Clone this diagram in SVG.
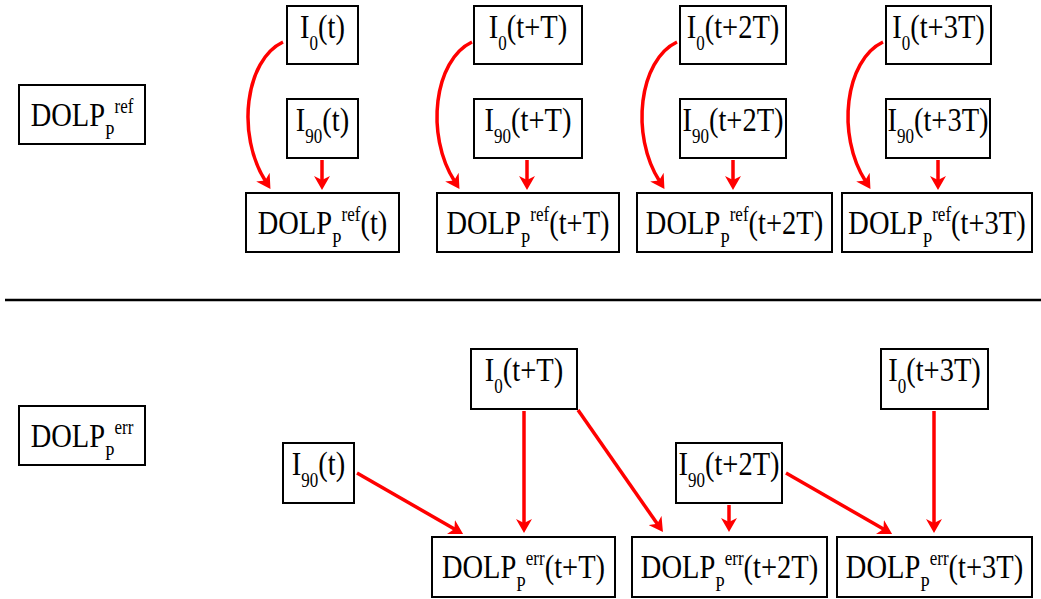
<svg xmlns="http://www.w3.org/2000/svg" width="1041" height="599" viewBox="0 0 1041 599">
<style>
.box{fill:#fff;stroke:#000;stroke-width:2}
.lbl{font-family:"Liberation Serif","Times New Roman",serif;font-size:28.5px;fill:#000;text-anchor:middle}
.s{font-size:17px}
.arr{fill:none;stroke:#ff0000;stroke-width:3.5}
</style>
<defs>
<marker id="ah" viewBox="0 0 14 16" markerWidth="14" markerHeight="16" refX="5" refY="8" orient="auto" markerUnits="userSpaceOnUse">
<path d="M0,0 L14,8 L0,16 L4,8 z" fill="#ff0000"/>
</marker>
</defs>
<rect width="1041" height="599" fill="#fff"/>
<line x1="5" y1="300" x2="1041" y2="300" stroke="#000" stroke-width="2.5"/>

<g id="connectors">
<path class="arr" marker-end="url(#ah)" d="M283,42 C245,60 236,135 265.6,181.3"/>
<path class="arr" marker-end="url(#ah)" d="M472,42 C434,60 425,135 454.6,181.3"/>
<path class="arr" marker-end="url(#ah)" d="M677,42 C639,60 630,135 659.6,181.3"/>
<path class="arr" marker-end="url(#ah)" d="M883,42 C845,60 836,135 865.6,181.3"/>
<path class="arr" marker-end="url(#ah)" d="M322,160 L322,181"/>
<path class="arr" marker-end="url(#ah)" d="M527,160 L527,181"/>
<path class="arr" marker-end="url(#ah)" d="M733,160 L733,181"/>
<path class="arr" marker-end="url(#ah)" d="M938,160 L938,181"/>
<path class="arr" marker-end="url(#ah)" d="M357,473 L455.3,529.5"/>
<path class="arr" marker-end="url(#ah)" d="M524,411 L524,524"/>
<path class="arr" marker-end="url(#ah)" d="M578,410 L657.8,524.6"/>
<path class="arr" marker-end="url(#ah)" d="M729,505 L729,523"/>
<path class="arr" marker-end="url(#ah)" d="M786,473 L884.3,529.5"/>
<path class="arr" marker-end="url(#ah)" d="M934,411 L934,524"/>
</g>

<g id="dolp-ref-label"><rect class="box" x="19" y="85" width="126" height="59"/>
<text class="lbl" transform="translate(82,126) scale(1,1.18)">DOLP<tspan class="s" dy="11">P</tspan><tspan class="s" dy="-22">ref</tspan></text></g>

<g id="i0-t"><rect class="box" x="287" y="6" width="71" height="58"/>
<text class="lbl" transform="translate(322.5,38) scale(1,1.18)">I<tspan class="s" dy="10">0</tspan><tspan dy="-10">(t)</tspan></text></g>
<g id="i90-t"><rect class="box" x="287" y="99" width="71" height="59"/>
<text class="lbl" transform="translate(322.5,131) scale(1,1.18)">I<tspan class="s" dy="10">90</tspan><tspan dy="-10">(t)</tspan></text></g>
<g id="dolp-ref-t"><rect class="box" x="246" y="193" width="153" height="59"/>
<text class="lbl" transform="translate(322.5,234) scale(1,1.18)">DOLP<tspan class="s" dy="11">P</tspan><tspan class="s" dy="-22">ref</tspan><tspan dy="11">(t)</tspan></text></g>

<g id="i0-tT"><rect class="box" x="474" y="6" width="108" height="58"/>
<text class="lbl" transform="translate(528,38) scale(1,1.18)">I<tspan class="s" dy="10">0</tspan><tspan dy="-10">(t+T)</tspan></text></g>
<g id="i90-tT"><rect class="box" x="474" y="99" width="108" height="59"/>
<text class="lbl" transform="translate(528,131) scale(1,1.18)">I<tspan class="s" dy="10">90</tspan><tspan dy="-10">(t+T)</tspan></text></g>
<g id="dolp-ref-tT"><rect class="box" x="437" y="193" width="182" height="59"/>
<text class="lbl" transform="translate(528,234) scale(1,1.18)">DOLP<tspan class="s" dy="11">P</tspan><tspan class="s" dy="-22">ref</tspan><tspan dy="11">(t+T)</tspan></text></g>

<g id="i0-t2T"><rect class="box" x="680" y="6" width="106" height="58"/>
<text class="lbl" transform="translate(733,38) scale(1,1.18)">I<tspan class="s" dy="10">0</tspan><tspan dy="-10">(t+2T)</tspan></text></g>
<g id="i90-t2T"><rect class="box" x="680" y="99" width="106" height="59"/>
<text class="lbl" transform="translate(733,131) scale(1,1.18)">I<tspan class="s" dy="10">90</tspan><tspan dy="-10">(t+2T)</tspan></text></g>
<g id="dolp-ref-t2T"><rect class="box" x="637" y="193" width="195" height="59"/>
<text class="lbl" transform="translate(734.5,234) scale(1,1.18)">DOLP<tspan class="s" dy="11">P</tspan><tspan class="s" dy="-22">ref</tspan><tspan dy="11">(t+2T)</tspan></text></g>

<g id="i0-t3T"><rect class="box" x="886" y="6" width="105" height="58"/>
<text class="lbl" transform="translate(938.5,38) scale(1,1.18)">I<tspan class="s" dy="10">0</tspan><tspan dy="-10">(t+3T)</tspan></text></g>
<g id="i90-t3T"><rect class="box" x="886" y="99" width="104" height="59"/>
<text class="lbl" transform="translate(938,131) scale(1,1.18)">I<tspan class="s" dy="10">90</tspan><tspan dy="-10">(t+3T)</tspan></text></g>
<g id="dolp-ref-t3T"><rect class="box" x="842" y="193" width="190" height="59"/>
<text class="lbl" transform="translate(937,234) scale(1,1.18)">DOLP<tspan class="s" dy="11">P</tspan><tspan class="s" dy="-22">ref</tspan><tspan dy="11">(t+3T)</tspan></text></g>

<g id="dolp-err-label"><rect class="box" x="19" y="406" width="126" height="59"/>
<text class="lbl" transform="translate(82,447) scale(1,1.18)">DOLP<tspan class="s" dy="11">P</tspan><tspan class="s" dy="-22">err</tspan></text></g>

<g id="b-i90-t"><rect class="box" x="283" y="443" width="71" height="60"/>
<text class="lbl" transform="translate(318.5,475) scale(1,1.18)">I<tspan class="s" dy="10">90</tspan><tspan dy="-10">(t)</tspan></text></g>
<g id="b-i0-tT"><rect class="box" x="471" y="349" width="106" height="60"/>
<text class="lbl" transform="translate(524,381) scale(1,1.18)">I<tspan class="s" dy="10">0</tspan><tspan dy="-10">(t+T)</tspan></text></g>
<g id="b-i90-t2T"><rect class="box" x="676" y="443" width="106" height="60"/>
<text class="lbl" transform="translate(729,475) scale(1,1.18)">I<tspan class="s" dy="10">90</tspan><tspan dy="-10">(t+2T)</tspan></text></g>
<g id="b-i0-t3T"><rect class="box" x="881" y="349" width="107" height="60"/>
<text class="lbl" transform="translate(934.5,381) scale(1,1.18)">I<tspan class="s" dy="10">0</tspan><tspan dy="-10">(t+3T)</tspan></text></g>

<g id="dolp-err-tT"><rect class="box" x="432" y="537" width="183" height="60"/>
<text class="lbl" transform="translate(523.5,578) scale(1,1.18)">DOLP<tspan class="s" dy="11">P</tspan><tspan class="s" dy="-22">err</tspan><tspan dy="11">(t+T)</tspan></text></g>
<g id="dolp-err-t2T"><rect class="box" x="632" y="537" width="195" height="60"/>
<text class="lbl" transform="translate(729.5,578) scale(1,1.18)">DOLP<tspan class="s" dy="11">P</tspan><tspan class="s" dy="-22">err</tspan><tspan dy="11">(t+2T)</tspan></text></g>
<g id="dolp-err-t3T"><rect class="box" x="837" y="537" width="195" height="60"/>
<text class="lbl" transform="translate(934.5,578) scale(1,1.18)">DOLP<tspan class="s" dy="11">P</tspan><tspan class="s" dy="-22">err</tspan><tspan dy="11">(t+3T)</tspan></text></g>
</svg>
